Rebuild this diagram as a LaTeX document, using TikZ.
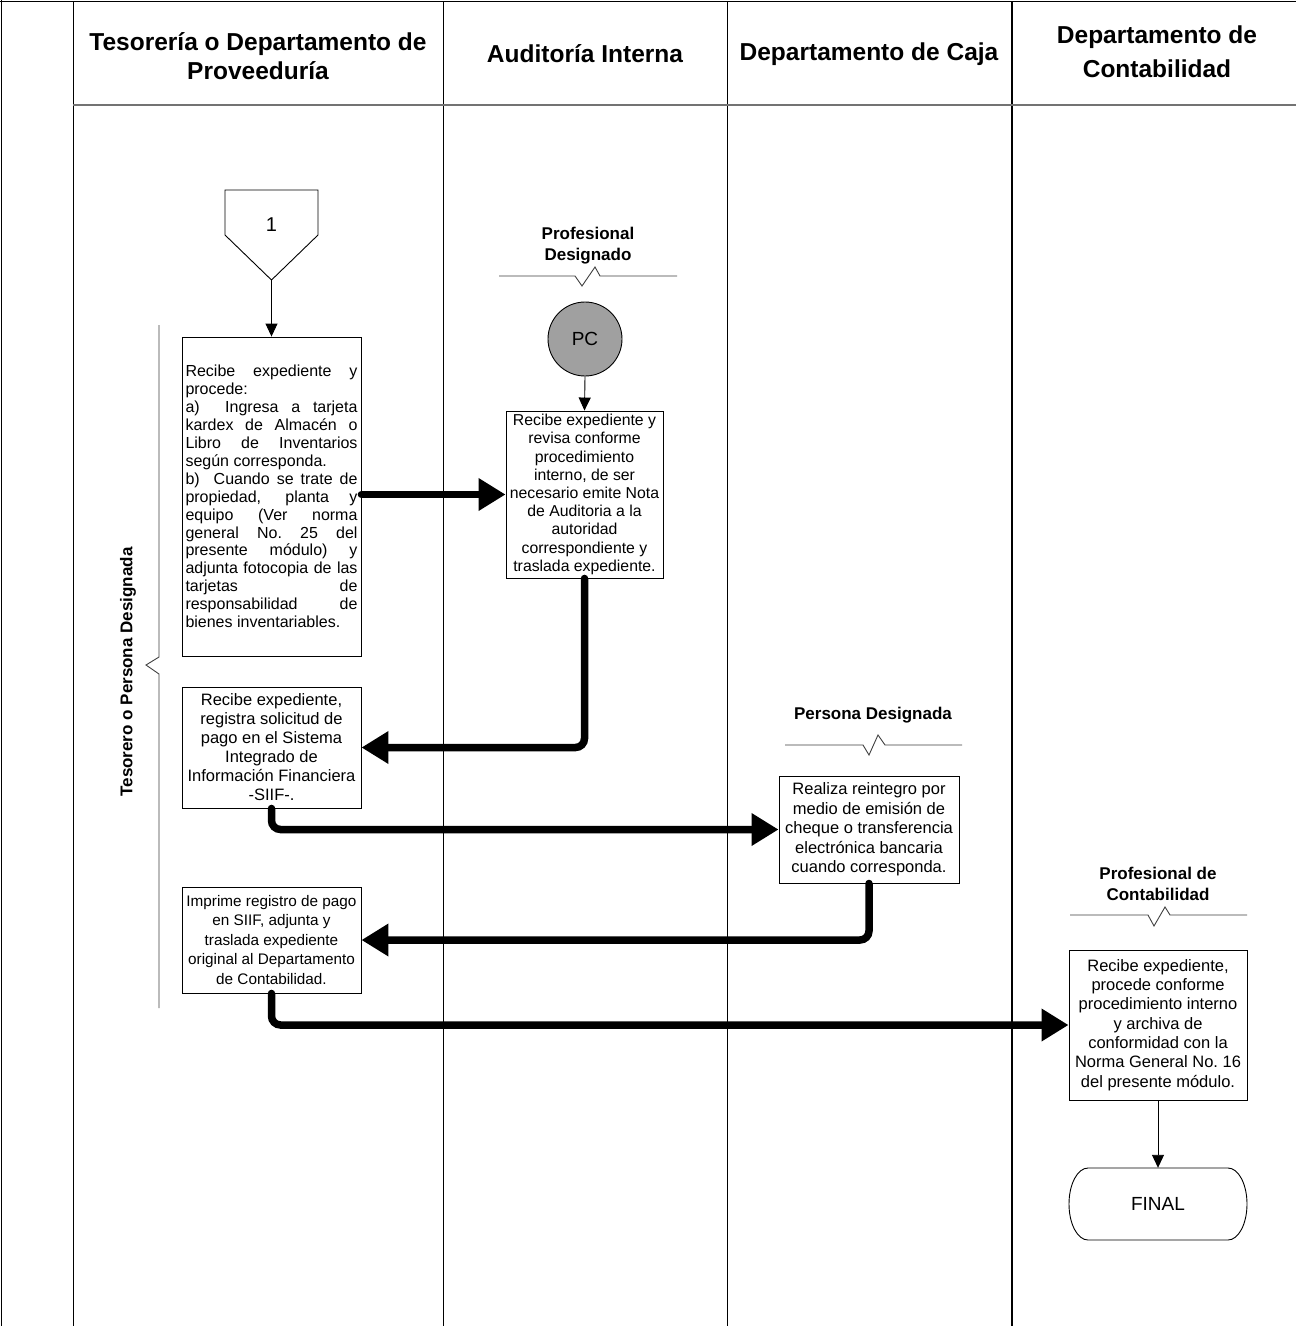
\documentclass[tikz,border=0pt]{standalone}
\usepackage{fontspec}
\setmainfont{Liberation Sans}
\usetikzlibrary{arrows.meta}
\newlength\jbw
\setlength\jbw{172pt}
\newcommand\jl[1]{\makebox[\jbw][s]{#1}}
\definecolor{pcgray}{RGB}{160,160,160}
\begin{document}
\begin{tikzpicture}[x=1pt,y=-1pt,
  frameline/.style={line width=1pt},
  box/.style={draw, line width=0.9pt, fill=white, inner sep=2pt, align=center, font=\fontsize{16.5}{19}\selectfont},
  hdr/.style={font=\bfseries\fontsize{24.5}{29}\selectfont, align=center},
  role/.style={font=\bfseries\fontsize{17}{21}\selectfont, align=center},
  flow/.style={line width=7.5pt, line cap=round, rounded corners=9pt, -{Triangle[length=27pt,width=31pt]}},
  thinflow/.style={line width=0.9pt, -{Triangle[length=13pt,width=12pt]}},
  zig/.style={line width=0.9pt, draw=black!75}
]
\useasboundingbox[fill=white] (0,0) rectangle (1296,1326);

% frame and lanes
\draw[frameline] (0,1) -- (1296,1);
\draw[frameline] (1,0) -- (1,1326);
\draw[frameline] (73,1) -- (73,1326);
\draw[frameline] (443,1) -- (443,1326);
\draw[frameline] (727,1) -- (727,1326);
\draw[line width=1.5pt] (1012,1) -- (1012,1326);
\draw[line width=2pt, draw=black!55] (73,105) -- (1296,105);

% headers
\node[hdr] (h1) at (258,56) {Tesorería o Departamento de\\Proveeduría};
\node[hdr] (h2) at (585,54) {Auditoría Interna};
\node[hdr] (h3) at (869,54) {Departamento de Caja};
\node[hdr, font=\bfseries\fontsize{24.5}{34}\selectfont] (h4) at (1157,52) {Departamento de\\Contabilidad};

% brace and rotated label
\draw[line width=0.9pt, draw=black!75] (159,325) -- (159,657) -- (146,665) -- (159,674) -- (159,1008);
\node[font=\bfseries\fontsize{17}{17}\selectfont, rotate=90] (tes) at (128,672) {Tesorero o Persona Designada};

% off-page connector
\draw[line width=0.9pt] (225,190) -- (318,190) -- (318,235) -- (271.5,280) -- (225,235) -- cycle;
\node[font=\fontsize{20}{20}\selectfont] (one) at (271.5,225) {1};
\coordinate (offtip) at (271.5,280);

% role labels
\node[role] (r1) at (588,246) {Profesional\\Designado};
\draw[zig] (499,276) -- ++(76,0) -- ++(7,10) -- ++(13,-19) -- ++(5,9) -- (677,276);
\node[role] (r2) at (873,715) {Persona Designada};
\draw[zig] (785,745) -- ++(78,0) -- ++(6,10) -- ++(9,-20) -- ++(7,10) -- (962,745);
\node[role] (r3) at (1158,884) {Profesional de\\Contabilidad};
\draw[zig] (1070,915) -- ++(78,0) -- ++(6,11) -- ++(11,-19) -- ++(5,8) -- (1247,915);

% boxes
\node[box, align=left, minimum width=179pt, minimum height=319pt, font=\fontsize{16}{17.9}\selectfont] (b1) at (271.5,496.5) {%
\jl{Recibe expediente y}\\
procede:\\
\jl{a)\ \ Ingresa a tarjeta}\\
\jl{kardex de Almacén o}\\
\jl{Libro de Inventarios}\\
según corresponda.\\
\jl{b)\ \ Cuando se trate de}\\
\jl{propiedad, planta y}\\
\jl{equipo (Ver norma}\\
\jl{general No.\ 25 del}\\
\jl{presente módulo) y}\\
\jl{adjunta fotocopia de las}\\
\jl{tarjetas de}\\
\jl{responsabilidad de}\\
bienes inventariables.};

\node[circle, draw, line width=0.9pt, fill=pcgray, minimum size=74pt, inner sep=0pt, font=\fontsize{19}{19}\selectfont] (pc) at (585,339) {PC};

\node[box, minimum width=157pt, minimum height=167pt, font=\fontsize{15.8}{18.2}\selectfont] (b2) at (584.5,494.5) {Recibe expediente y\\revisa conforme\\procedimiento\\interno, de ser\\necesario emite Nota\\de Auditoria a la\\autoridad\\correspondiente y\\traslada expediente.};

\node[box, minimum width=179pt, minimum height=121pt] (b3) at (271.5,747.5) {Recibe expediente,\\registra solicitud de\\pago en el Sistema\\Integrado de\\Información Financiera\\-SIIF-.};

\node[box, minimum width=180pt, minimum height=107pt, font=\fontsize{16.5}{19.5}\selectfont] (b4) at (869,829.5) {Realiza reintegro por\\medio de emisión de\\cheque o transferencia\\electrónica bancaria\\cuando corresponda.};

\node[box, minimum width=179pt, minimum height=106pt, font=\fontsize{15.3}{19.5}\selectfont] (b5) at (271.5,940) {Imprime registro de pago\\en SIIF, adjunta y\\traslada expediente\\original al Departamento\\de Contabilidad.};

\node[box, minimum width=178pt, minimum height=150pt, font=\fontsize{16.5}{19.3}\selectfont] (b6) at (1158,1025) {Recibe expediente,\\procede conforme\\procedimiento interno\\y archiva de\\conformidad con la\\Norma General No.\ 16\\del presente módulo.};

\node[minimum width=178pt, minimum height=72pt, font=\fontsize{19}{19}\selectfont] (fin) at (1158,1204) {FINAL};
\draw[line width=0.9pt] (1088,1168) -- (1228,1168)
  arc[start angle=90, end angle=-90, x radius=19pt, y radius=36pt]
  -- (1088,1240)
  arc[start angle=270, end angle=90, x radius=19pt, y radius=36pt] -- cycle;

% connectors
\draw[thinflow] (offtip) -- (b1.north);
\draw[thinflow] (pc.south) -- (b2.north);
\draw[thinflow] (b6.south) -- (fin.north);
\draw[flow] (b1.east |- b2.west) -- (b2.west);
\draw[flow] (b2.south) |- (b3.east);
\draw[flow] (b3.south) |- (b4.west);
\draw[flow] (b4.south) |- (b5.east);
\draw[flow] (b5.south) |- (b6.west);
\end{tikzpicture}
\end{document}
